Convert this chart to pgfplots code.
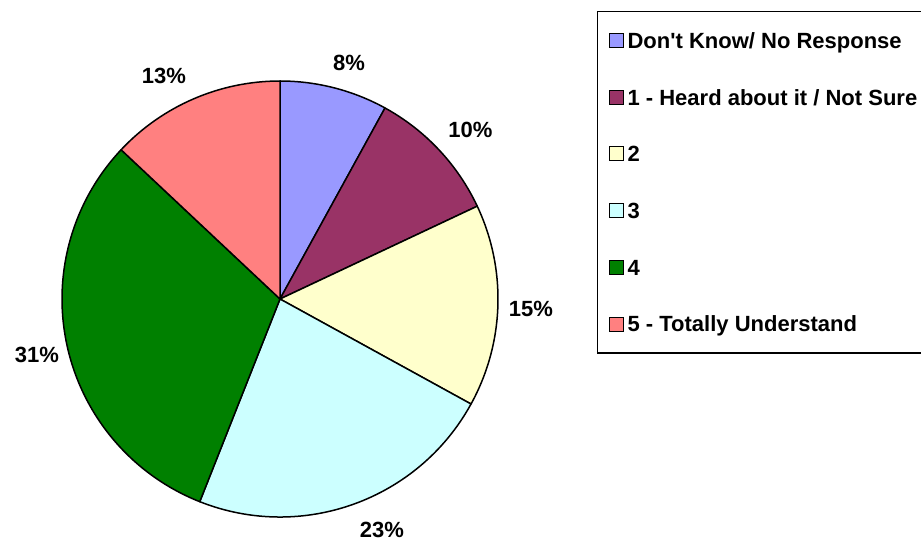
\documentclass[border=0pt]{standalone}
\usepackage{fontspec}
\setmainfont{Liberation Sans}
\usepackage{pgfplots}
\usepackage{pgfplotstable}
\pgfplotsset{compat=1.18}
\definecolor{c0}{HTML}{9999FF}
\definecolor{c1}{HTML}{993366}
\definecolor{c2}{HTML}{FFFFCC}
\definecolor{c3}{HTML}{CCFFFF}
\definecolor{c4}{HTML}{008000}
\definecolor{c5}{HTML}{FF8080}
\tikzset{pctlabel/.style={font=\fontsize{11}{13}\selectfont\bfseries, inner sep=0pt, text height=7.9pt, text depth=0pt}}
% value, label position (x, y in axis units)
\pgfplotstableread{
value lx    ly
8     349   478.5
10    470.5 411.5
15    531   232.5
23    382   11
31    37    186
13    164   465
}\piedata
\newcommand{\sq}[1]{\addlegendimage{legend image code/.code={\draw[fill=#1,draw=black,line width=0.5pt] (0pt,-3.5pt) rectangle (7pt,3.5pt);}}}
\begin{document}
\begin{tikzpicture}
\begin{axis}[x=0.5pt,y=0.5pt,xmin=0,xmax=921,ymin=0,ymax=541,hide axis,clip=false,
  legend cell align=left,
  legend style={at={(597/921,530/541)},anchor=north west, draw=black, line width=0.6pt,
    inner xsep=5.5pt, inner ysep=0.3pt, row sep=0pt, column sep=2pt,
    font=\fontsize{11}{13}\selectfont\bfseries,
    nodes={inner sep=0pt, text height=7.9pt, text depth=0pt, minimum height=28.35pt}}]
\sq{c0}\addlegendentry{Don\textquotesingle t Know/ No Response}
\sq{c1}\addlegendentry{1 - Heard about it / Not Sure}
\sq{c2}\addlegendentry{2}
\sq{c3}\addlegendentry{3}
\sq{c4}\addlegendentry{4}
\sq{c5}\addlegendentry{5 - Totally Understand}
\gdef\cum{0}
\pgfplotsinvokeforeach{0,...,5}{
  \pgfplotstablegetelem{#1}{value}\of\piedata
  \edef\val{\pgfplotsretval}
  \pgfplotstablegetelem{#1}{lx}\of\piedata
  \edef\lx{\pgfplotsretval}
  \pgfplotstablegetelem{#1}{ly}\of\piedata
  \edef\ly{\pgfplotsretval}
  \pgfmathsetmacro\sa{90-3.6*\cum}
  \pgfmathsetmacro\ea{90-3.6*(\cum+\val)}
  \pgfmathsetmacro\newcum{\cum+\val}
  \xdef\cum{\newcum}
  \edef\temp{\noexpand\filldraw[fill=c#1,draw=black,line width=0.75pt,line join=round] (axis cs:280,242) -- ++(\sa:109pt) arc[start angle=\sa, end angle=\ea, radius=109pt] -- cycle;
    \noexpand\node[pctlabel] at (axis cs:\lx,\ly) {\val\noexpand\%};}
  \temp
}
\end{axis}
\pgfresetboundingbox
\path (current axis.south west) rectangle (current axis.north east);
\end{tikzpicture}
\end{document}
